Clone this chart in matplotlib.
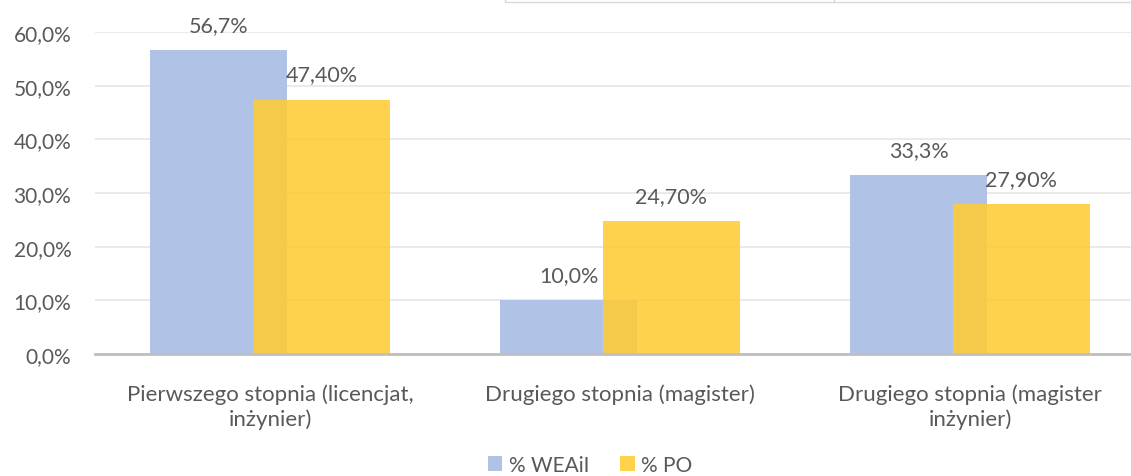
import matplotlib
matplotlib.use("Agg")
import matplotlib.pyplot as plt
from matplotlib.patches import Rectangle
import numpy as np

categories = ["Pierwszego stopnia (licencjat,\ninżynier)",
              "Drugiego stopnia (magister)",
              "Drugiego stopnia (magister\ninżynier)"]
weaii = [56.7, 10.0, 33.3]
po = [47.4, 24.7, 27.9]
series_names = ["% WEAiI", "% PO"]

plt.rcParams['font.family'] = ['Lato', 'DejaVu Sans']
text_color = "#595959"

W, H = 1131, 477
fig = plt.figure(figsize=(W / 100, H / 100), dpi=100)
ax = fig.add_axes([95 / W, 122 / H, 1050 / W, 322 / H])

x = np.arange(len(categories))
bw = 0.39
off = 0.147
b1 = ax.bar(x - off, weaii, bw, color="#B0C3E6", zorder=2, label=series_names[0])
b2 = ax.bar(x + off, po, bw, color="#FFCC33", alpha=0.87, zorder=3, label=series_names[1])

for xi, v in zip(x, weaii):
    ax.text(xi - off, v + 2.8, f"{v:.1f}%".replace(".", ","), ha="center", va="bottom",
            fontsize=15.5, color=text_color)
for xi, v in zip(x, po):
    ax.text(xi + off, v + 2.8, f"{v:.2f}%".replace(".", ","), ha="center", va="bottom",
            fontsize=15.5, color=text_color)

ax.set_xlim(-0.5, 2.5)
ax.set_ylim(0, 60)
ax.set_yticks(np.arange(0, 61, 10))
ax.set_yticklabels([f"{t:.1f}%".replace(".", ",") for t in np.arange(0, 61, 10)])
ax.set_xticks(x)
ax.set_xticklabels(categories, linespacing=1.3)
ax.tick_params(axis="both", length=0, colors=text_color)
ax.tick_params(axis="x", pad=21, labelsize=16)
ax.tick_params(axis="y", pad=17, labelsize=15)
ax.yaxis.grid(True, color="#E6E6E6", linewidth=1.2, zorder=0)
ax.set_axisbelow(True)
for s in ["top", "right", "left"]:
    ax.spines[s].set_visible(False)
ax.spines["bottom"].set_color("#BFBFBF")
ax.spines["bottom"].set_linewidth(2)
ax.spines["bottom"].set_zorder(4)

leg = fig.legend(handles=[b1, b2], labels=series_names, loc="center", bbox_to_anchor=(590 / W, 1 - 466 / H),
                 ncol=2, frameon=False, fontsize=15, handlelength=0.7, handleheight=0.7,
                 handletextpad=0.3, columnspacing=1.5, labelcolor=text_color)

# cropped box at the top edge
fig.patches.append(Rectangle((505 / W, 1 - 3 / H), 1, 0.05, transform=fig.transFigure,
                             fill=False, edgecolor="#D9D9D9", linewidth=1))
fig.lines.append(plt.Line2D([834 / W, 834 / W], [1 - 3 / H, 1], transform=fig.transFigure,
                            color="#D9D9D9", linewidth=1))

fig.savefig("out.png", dpi=100)
